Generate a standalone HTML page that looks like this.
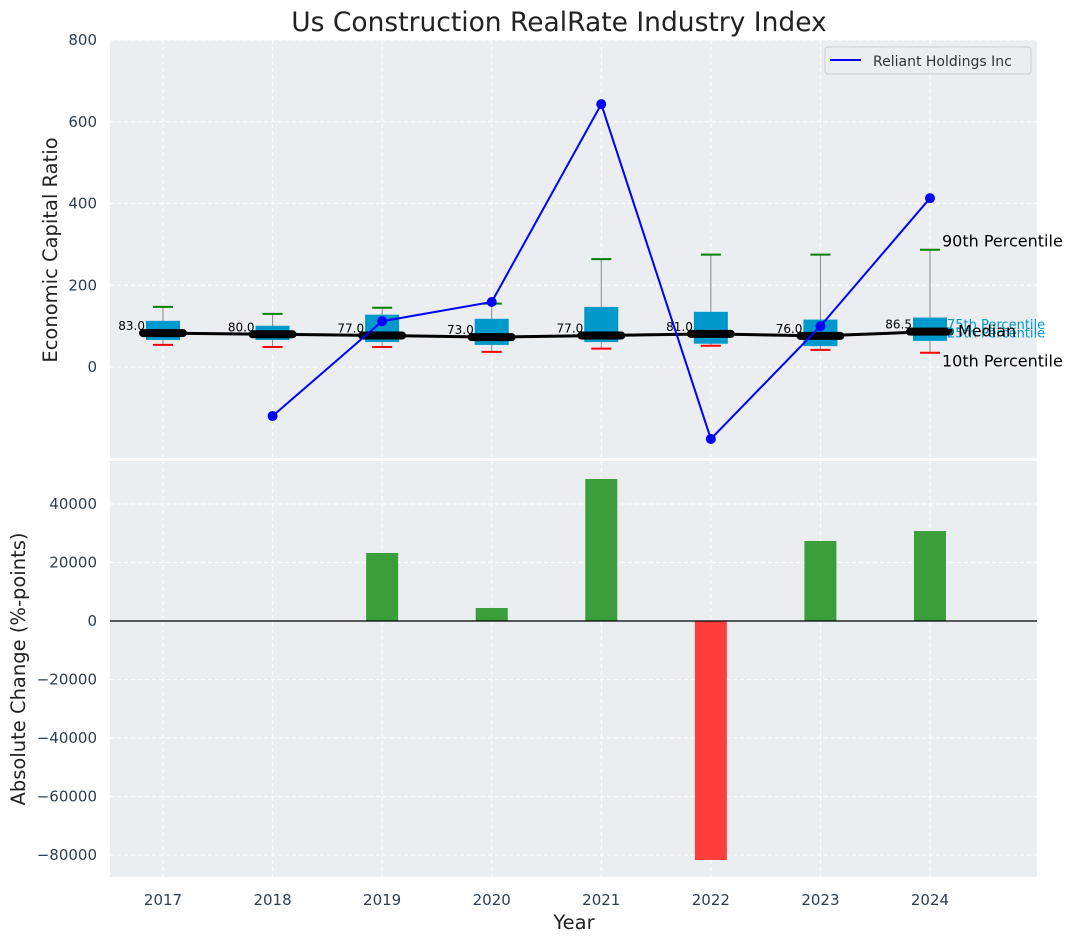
<!DOCTYPE html>
<html><head><meta charset="utf-8"><style>
html,body{margin:0;padding:0;background:#fff;}
svg{display:block;font-family:"DejaVu Sans","Liberation Sans",sans-serif;}
</style></head><body>
<svg id="chart" width="1076" height="942" xmlns="http://www.w3.org/2000/svg"></svg>
<script>
const years = [2017,2018,2019,2020,2021,2022,2023,2024];
const p10 = [54,49,49,37,45,52,42,35];
const q1 = [66,66,61,54,61,57,51,64];
const medians = [83,80,77,73,77,81,76,86.5];
const q3 = [113,101,128,118,147,135,116,121];
const p90 = [147,130,145,155,264,275,275,287];
const reliantYears = [2018,2019,2020,2021,2022,2023,2024];
const reliantValues = [-120,112,159,643,-176,100,413];
const changeYears = [2019,2020,2021,2022,2023,2024];
const changeValues = [23250,4450,48550,-81700,27350,30770];
const topTicks = [0,200,400,600,800];
const bottomTicks = [-80000,-60000,-40000,-20000,0,20000,40000];

const NS="http://www.w3.org/2000/svg";
const svg=document.getElementById('chart');
function el(tag,attrs,parent){const e=document.createElementNS(NS,tag);for(const k in attrs)e.setAttribute(k,attrs[k]);(parent||svg).appendChild(e);return e;}
const L=110,R=1037;
const x=v=>163+(v-2017)*109.57;
const yT=v=>367-v*0.40875;
const yB=v=>621-v*117/40000;
const fmt=v=>(v<0?'\u2212':'')+Math.abs(v);

const bgT=el('rect',{x:L,y:40,width:R-L,height:418,fill:'#eaeef0'});


const bgB=el('rect',{x:L,y:461,width:R-L,height:416,fill:'#eaeef0'});



years.forEach(yr=>{
  el('line',{x1:x(yr),x2:x(yr),y1:40,y2:458,stroke:'#fff','stroke-dasharray':'4,3','stroke-width':1});
  el('line',{x1:x(yr),x2:x(yr),y1:461,y2:877,stroke:'#fff','stroke-dasharray':'4,3','stroke-width':1});
});
topTicks.forEach(t=>{
  el('line',{x1:L,x2:R,y1:yT(t),y2:yT(t),stroke:'#fff','stroke-dasharray':'4,3'});
  const tx=el('text',{x:97,y:yT(t)+5,'text-anchor':'end','font-size':15,fill:'#2c3e50'});
  tx.textContent=t;
  
  
});
bottomTicks.forEach(t=>{
  el('line',{x1:L,x2:R,y1:yB(t),y2:yB(t),stroke:'#fff','stroke-dasharray':'4,3'});
  const tx=el('text',{x:97,y:yB(t)+5,'text-anchor':'end','font-size':15,fill:'#2c3e50'});
  tx.textContent=fmt(t);
  
  
});
years.forEach(yr=>{
  const tx=el('text',{x:x(yr),y:905,'text-anchor':'middle','font-size':15,fill:'#2c3e50'});
  tx.textContent=yr;
  
  
});

years.forEach((yr,i)=>{
  const cx=x(yr);
  el('line',{x1:cx,x2:cx,y1:yT(p90[i]),y2:yT(p10[i]),stroke:'#888','stroke-width':1});
  const b=el('rect',{x:cx-17,y:yT(q3[i]),width:34,height:yT(q1[i])-yT(q3[i]),fill:'#0099cc'});
  
  
  el('line',{x1:cx-10,x2:cx+10,y1:yT(p90[i]),y2:yT(p90[i]),stroke:'green','stroke-width':2});
  el('line',{x1:cx-10,x2:cx+10,y1:yT(p10[i]),y2:yT(p10[i]),stroke:'red','stroke-width':2});
});
let dm=years.map((yr,i)=>(i?'L':'M')+x(yr)+','+yT(medians[i])).join(' ');
const ml=el('path',{d:dm,stroke:'#000','stroke-width':3,fill:'none'});


years.forEach((yr,i)=>{
  const cx=x(yr),cy=yT(medians[i]);
  const m=el('line',{x1:cx-20,x2:cx+20,y1:cy,y2:cy,stroke:'#000','stroke-width':8,'stroke-linecap':'round'});
  
  
  const t=el('text',{x:cx-18,y:cy-3,'text-anchor':'end','font-size':12,fill:'#000'});
  t.textContent=medians[i].toFixed(1);
  
  
});
const last=years.length-1, bx=x(years[last]);
[[yT(p90[last])-9,'90th Percentile','#000',16,bx+12],
 [yT(q3[last])+7,'75th Percentile','#0099cc',13,bx+17],
 [yT(q1[last])-8,'25th Percentile','#0099cc',13,bx+17],
 [yT(medians[last])-1,'Median','#000',16,bx+28],
 [yT(p10[last])+8,'10th Percentile','#000',16,bx+12]].forEach(a=>{
  const t=el('text',{x:a[4],y:a[0]+a[3]*0.36,'font-size':a[3],fill:a[2]});
  t.textContent=a[1];
  
  
});

let dr=reliantYears.map((yr,i)=>(i?'L':'M')+x(yr)+','+yT(reliantValues[i])).join(' ');
const rl=el('path',{d:dr,stroke:'#0000ff','stroke-width':2,fill:'none'});


reliantYears.forEach((yr,i)=>{
  const c=el('circle',{cx:x(yr),cy:yT(reliantValues[i]),r:5,fill:'#0000ff'});
  
  
});

const lg=el('g',{});


el('rect',{x:825,y:47,width:206,height:27,rx:3,fill:'#eaeef0',stroke:'#ccc'},lg);
el('line',{x1:830,x2:861,y1:60,y2:60,stroke:'#0000ff','stroke-width':2},lg);
const lt=el('text',{x:873,y:66,'font-size':14,fill:'#333'},lg);
lt.textContent='Reliant Holdings Inc';



changeYears.forEach((yr,i)=>{
  const v=changeValues[i],y0=yB(0),y1=yB(v);
  const b=el('rect',{x:x(yr)-16,y:Math.min(y0,y1),width:32,height:Math.abs(y1-y0),fill:v>=0?'#3a9e3a':'#ff3d3d'});
  
  
});
el('line',{x1:L,x2:R,y1:yB(0),y2:yB(0),stroke:'#000','stroke-width':1.2});

const tt=el('text',{x:559,y:31,'text-anchor':'middle','font-size':26.5,fill:'#222'});
tt.textContent='Us Construction RealRate Industry Index';


const y1t=el('text',{x:0,y:0,'text-anchor':'middle','font-size':19.5,fill:'#222',transform:'translate(57,250) rotate(-90)'});
y1t.textContent='Economic Capital Ratio';


const y2t=el('text',{x:0,y:0,'text-anchor':'middle','font-size':19.5,fill:'#222',transform:'translate(25,669) rotate(-90)'});
y2t.textContent='Absolute Change (%-points)';


const xt=el('text',{x:574,y:929,'text-anchor':'middle','font-size':19.5,fill:'#222'});
xt.textContent='Year';


</script>
</body></html>
